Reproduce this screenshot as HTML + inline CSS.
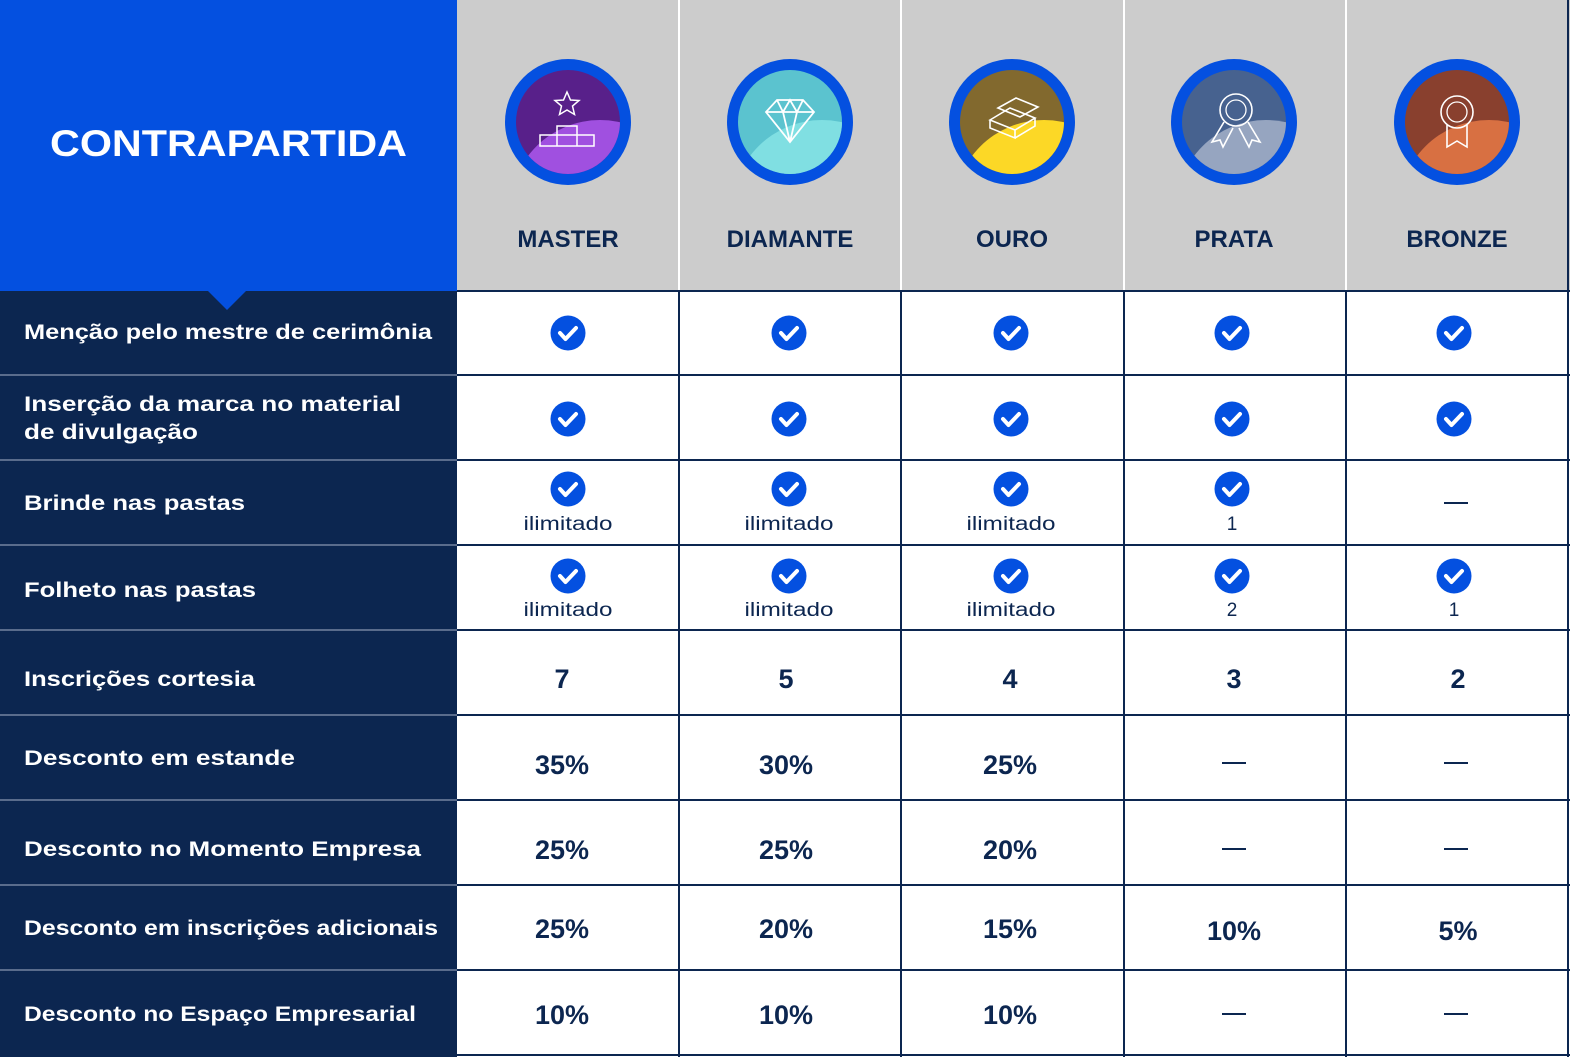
<!DOCTYPE html>
<html><head><meta charset="utf-8"><style>
html,body{margin:0;padding:0;background:#fff}
svg{display:block}
text{font-family:"Liberation Sans",sans-serif}
</style></head><body>
<svg width="1570" height="1057" viewBox="0 0 1570 1057" xmlns="http://www.w3.org/2000/svg">
<defs>
<g id="chk"><circle r="17.5" fill="#0450e0"/><path d="M-8,0 L-2.5,6 L8,-5" stroke="#fff" stroke-width="4" fill="none" stroke-linecap="round" stroke-linejoin="round"/></g>
</defs>
<rect width="1570" height="1057" fill="#fff"/>
<rect x="457" y="0" width="1113" height="291" fill="#cccccc"/>
<rect x="0" y="0" width="457" height="291" fill="#0450e0"/>
<rect x="0" y="291" width="457" height="766" fill="#0c2650"/>
<path d="M207,290 L247,290 L227,310 Z" fill="#0450e0"/>
<text x="50" y="156" font-size="37" font-weight="bold" fill="#fff" textLength="357" lengthAdjust="spacingAndGlyphs">CONTRAPARTIDA</text>
<g stroke="#fff" stroke-width="2">
<line x1="679" y1="0" x2="679" y2="291"/><line x1="901" y1="0" x2="901" y2="291"/><line x1="1124" y1="0" x2="1124" y2="291"/><line x1="1346" y1="0" x2="1346" y2="291"/>
</g>
<g stroke="#0c2650" stroke-width="2">
<line x1="457" y1="291" x2="1570" y2="291"/>
<line x1="679" y1="291" x2="679" y2="1057"/><line x1="901" y1="291" x2="901" y2="1057"/><line x1="1124" y1="291" x2="1124" y2="1057"/><line x1="1346" y1="291" x2="1346" y2="1057"/><line x1="1568" y1="0" x2="1568" y2="1057"/>
<line x1="457" y1="375" x2="1570" y2="375"/><line x1="457" y1="460" x2="1570" y2="460"/><line x1="457" y1="545" x2="1570" y2="545"/><line x1="457" y1="630" x2="1570" y2="630"/><line x1="457" y1="715" x2="1570" y2="715"/><line x1="457" y1="800" x2="1570" y2="800"/><line x1="457" y1="885" x2="1570" y2="885"/><line x1="457" y1="970" x2="1570" y2="970"/><line x1="457" y1="1055" x2="1570" y2="1055"/>
</g>
<g stroke="#5a6c8c" stroke-width="2">
<line x1="0" y1="375" x2="457" y2="375"/><line x1="0" y1="460" x2="457" y2="460"/><line x1="0" y1="545" x2="457" y2="545"/><line x1="0" y1="630" x2="457" y2="630"/><line x1="0" y1="715" x2="457" y2="715"/><line x1="0" y1="800" x2="457" y2="800"/><line x1="0" y1="885" x2="457" y2="885"/><line x1="0" y1="970" x2="457" y2="970"/>
</g>
<g>
<clipPath id="c1"><circle cx="568" cy="122" r="52"/></clipPath>
<circle cx="568" cy="122" r="63" fill="#0450e0"/><circle cx="568" cy="122" r="52" fill="#58208a"/>
<circle cx="600" cy="210" r="90" fill="#a050e0" clip-path="url(#c1)"/>
<path d="M567,92 l3.5,8 8.5,.5 -6.5,5.5 2,8.5 -7.5,-4.5 -7.5,4.5 2,-8.5 -6.5,-5.5 8.5,-.5z" fill="none" stroke="#fff" stroke-width="1.5"/>
<path d="M540,135 h54 v11 h-54z M557,126 h20 v20 h-20z" fill="none" stroke="#fff" stroke-width="1.5"/>
</g>
<g>
<clipPath id="c2"><circle cx="790" cy="122" r="52"/></clipPath>
<circle cx="790" cy="122" r="63" fill="#0450e0"/><circle cx="790" cy="122" r="52" fill="#5bc3cf"/>
<circle cx="822" cy="210" r="90" fill="#80dfe2" clip-path="url(#c2)"/>
<path d="M777,100 h26 l11,12 -24,30 -24,-30z M766,112 h48 M777,100 l6,12 7,30 7,-30 6,-12 M783,112 l7,-12 7,12" fill="none" stroke="#fff" stroke-width="1.8"/>
</g>
<g>
<clipPath id="c3"><circle cx="1012" cy="122" r="52"/></clipPath>
<circle cx="1012" cy="122" r="63" fill="#0450e0"/><circle cx="1012" cy="122" r="52" fill="#82692e"/>
<circle cx="1044" cy="210" r="90" fill="#fcd826" clip-path="url(#c3)"/>
<path d="M990,120 l20,-12 25,10 -20,12z M990,120 v8 l25,10 v-8 M1035,118 v8 l-20,12 M998,108 l18,-10 22,9 -18,10z" fill="none" stroke="#fff" stroke-width="1.6"/>
</g>
<g>
<clipPath id="c4"><circle cx="1234" cy="122" r="52"/></clipPath>
<circle cx="1234" cy="122" r="63" fill="#0450e0"/><circle cx="1234" cy="122" r="52" fill="#47628f"/>
<circle cx="1266" cy="210" r="90" fill="#96a5c0" clip-path="url(#c4)"/>
<circle cx="1236" cy="110" r="16" fill="none" stroke="#fff" stroke-width="1.6"/><circle cx="1236" cy="110" r="10" fill="none" stroke="#fff" stroke-width="1.3"/>
<path d="M1224,122 l-12,20 8,-2 3,7 10,-19 M1248,122 l12,20 -8,-2 -3,7 -10,-19" fill="none" stroke="#fff" stroke-width="1.6"/>
</g>
<g>
<clipPath id="c5"><circle cx="1457" cy="122" r="52"/></clipPath>
<circle cx="1457" cy="122" r="63" fill="#0450e0"/><circle cx="1457" cy="122" r="52" fill="#89402e"/>
<circle cx="1489" cy="210" r="90" fill="#d87042" clip-path="url(#c5)"/>
<circle cx="1457" cy="112" r="16" fill="none" stroke="#fff" stroke-width="1.6"/><circle cx="1457" cy="112" r="10" fill="none" stroke="#fff" stroke-width="1.3"/>
<path d="M1447,125 v22 l10,-6 10,6 v-22" fill="none" stroke="#fff" stroke-width="1.6"/>
</g>
<g font-size="24" font-weight="bold" fill="#0c2650" text-anchor="middle">
<text x="568" y="247">MASTER</text><text x="790" y="247">DIAMANTE</text><text x="1012" y="247">OURO</text><text x="1234" y="247">PRATA</text><text x="1457" y="247">BRONZE</text>
</g>
<g font-size="21.5" font-weight="bold" fill="#fff" lengthAdjust="spacingAndGlyphs">
<text x="24" y="339" textLength="408" lengthAdjust="spacingAndGlyphs">Menção pelo mestre de cerimônia</text>
<text x="24" y="411" textLength="377" lengthAdjust="spacingAndGlyphs">Inserção da marca no material</text>
<text x="24" y="439" textLength="174" lengthAdjust="spacingAndGlyphs">de divulgação</text>
<text x="24" y="510" textLength="221" lengthAdjust="spacingAndGlyphs">Brinde nas pastas</text>
<text x="24" y="597" textLength="232" lengthAdjust="spacingAndGlyphs">Folheto nas pastas</text>
<text x="24" y="686" textLength="231" lengthAdjust="spacingAndGlyphs">Inscrições cortesia</text>
<text x="24" y="765" textLength="271" lengthAdjust="spacingAndGlyphs">Desconto em estande</text>
<text x="24" y="856" textLength="397" lengthAdjust="spacingAndGlyphs">Desconto no Momento Empresa</text>
<text x="24" y="935" textLength="414" lengthAdjust="spacingAndGlyphs">Desconto em inscrições adicionais</text>
<text x="24" y="1021" textLength="392" lengthAdjust="spacingAndGlyphs">Desconto no Espaço Empresarial</text>
</g>
<g>
<use href="#chk" x="568" y="333"/><use href="#chk" x="789" y="333"/><use href="#chk" x="1011" y="333"/><use href="#chk" x="1232" y="333"/><use href="#chk" x="1454" y="333"/>
<use href="#chk" x="568" y="419"/><use href="#chk" x="789" y="419"/><use href="#chk" x="1011" y="419"/><use href="#chk" x="1232" y="419"/><use href="#chk" x="1454" y="419"/>
<use href="#chk" x="568" y="489"/><use href="#chk" x="789" y="489"/><use href="#chk" x="1011" y="489"/><use href="#chk" x="1232" y="489"/>
<use href="#chk" x="568" y="576"/><use href="#chk" x="789" y="576"/><use href="#chk" x="1011" y="576"/><use href="#chk" x="1232" y="576"/><use href="#chk" x="1454" y="576"/>
</g>
<g font-size="19" fill="#0c2650" text-anchor="middle">
<text x="568" y="530" textLength="89" lengthAdjust="spacingAndGlyphs">ilimitado</text><text x="789" y="530" textLength="89" lengthAdjust="spacingAndGlyphs">ilimitado</text><text x="1011" y="530" textLength="89" lengthAdjust="spacingAndGlyphs">ilimitado</text><text x="1232" y="530">1</text>
<text x="568" y="616" textLength="89" lengthAdjust="spacingAndGlyphs">ilimitado</text><text x="789" y="616" textLength="89" lengthAdjust="spacingAndGlyphs">ilimitado</text><text x="1011" y="616" textLength="89" lengthAdjust="spacingAndGlyphs">ilimitado</text><text x="1232" y="616">2</text><text x="1454" y="616">1</text>
</g>
<g stroke="#0c2650" stroke-width="2">
<line x1="1444" y1="503" x2="1468" y2="503"/>
<line x1="1222" y1="763" x2="1246" y2="763"/><line x1="1444" y1="763" x2="1468" y2="763"/>
<line x1="1222" y1="849" x2="1246" y2="849"/><line x1="1444" y1="849" x2="1468" y2="849"/>
<line x1="1222" y1="1014" x2="1246" y2="1014"/><line x1="1444" y1="1014" x2="1468" y2="1014"/>
</g>
<g font-size="27" font-weight="bold" fill="#0c2650" text-anchor="middle">
<text x="562" y="688">7</text><text x="786" y="688">5</text><text x="1010" y="688">4</text><text x="1234" y="688">3</text><text x="1458" y="688">2</text>
<text x="562" y="774">35%</text><text x="786" y="774">30%</text><text x="1010" y="774">25%</text>
<text x="562" y="859">25%</text><text x="786" y="859">25%</text><text x="1010" y="859">20%</text>
<text x="562" y="938">25%</text><text x="786" y="938">20%</text><text x="1010" y="938">15%</text><text x="1234" y="940">10%</text><text x="1458" y="940">5%</text>
<text x="562" y="1024">10%</text><text x="786" y="1024">10%</text><text x="1010" y="1024">10%</text>
</g>
</svg>
</body></html>
